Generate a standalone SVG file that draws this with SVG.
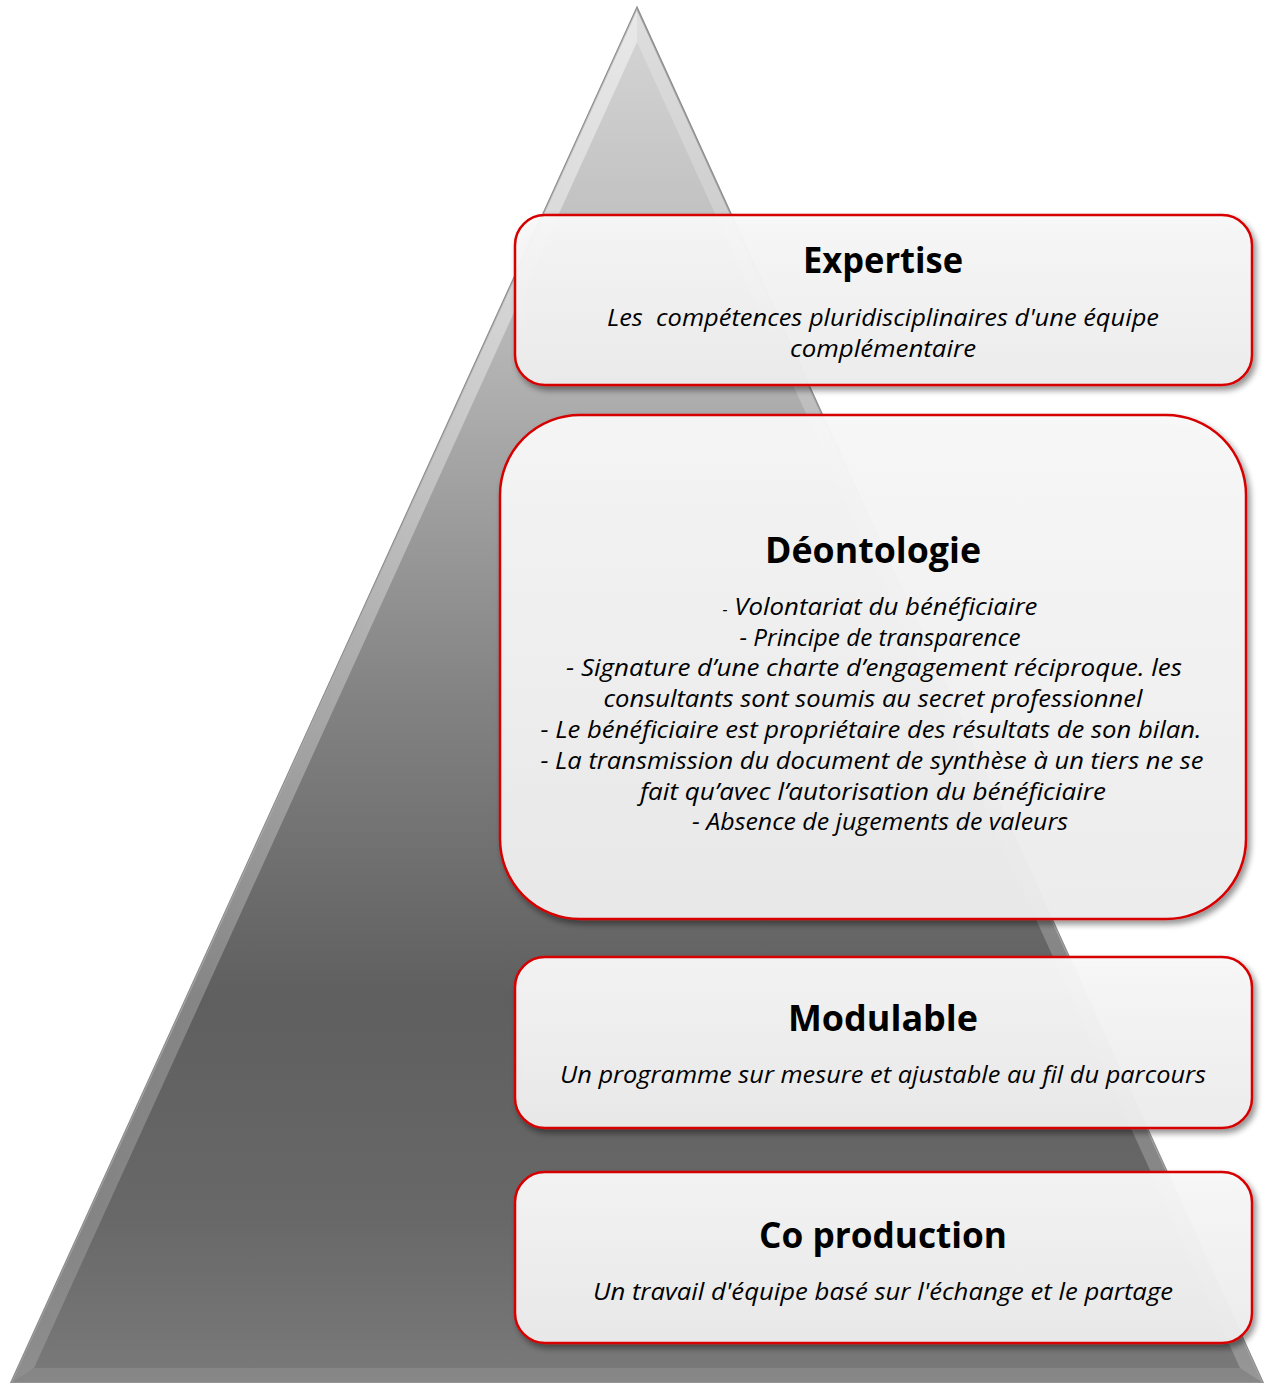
<svg xmlns="http://www.w3.org/2000/svg" width="1266" height="1383" viewBox="0 0 1266 1383">
<defs>
<linearGradient id="pyr" x1="0" y1="0" x2="0" y2="1">
<stop offset="0" stop-color="#d6d6d6"/>
<stop offset="0.25" stop-color="#b4b4b4"/>
<stop offset="0.5" stop-color="#838383"/>
<stop offset="0.72" stop-color="#5f5f5f"/>
<stop offset="0.88" stop-color="#686868"/>
<stop offset="1" stop-color="#7a7a7a"/>
</linearGradient>
<linearGradient id="bevL" x1="0" y1="0" x2="1" y2="0">
<stop offset="0" stop-color="#ffffff" stop-opacity="0.15"/>
<stop offset="1" stop-color="#ffffff" stop-opacity="0.45"/>
</linearGradient>
<linearGradient id="box" x1="0" y1="0" x2="0" y2="1">
<stop offset="0" stop-color="#f9f9f9"/>
<stop offset="1" stop-color="#eeeeee"/>
</linearGradient>
<filter id="sh" x="-5%" y="-10%" width="115%" height="130%">
<feGaussianBlur in="SourceAlpha" stdDeviation="3"/>
<feOffset dx="3" dy="4" result="b"/>
<feComponentTransfer><feFuncA type="linear" slope="0.45"/></feComponentTransfer>
<feMerge><feMergeNode/><feMergeNode in="SourceGraphic"/></feMerge>
</filter>
<style>
.bx{fill:url(#box);fill-opacity:0.95;stroke:#d60000;stroke-width:2.5}
.t{font-family:"Open Sans","Noto Sans","Liberation Sans",sans-serif;font-weight:bold;font-size:36px;fill:#000;text-anchor:middle}
.d{font-family:"Open Sans","Noto Sans","Liberation Sans",sans-serif;font-style:italic;font-size:24px;fill:#000;text-anchor:middle}
</style>
</defs>
<g id="pyramid">
<polygon points="637,8 11,1383 1263,1383" fill="url(#pyr)" stroke="#8a8a8a" stroke-width="2"/>
<polygon points="637,8 11,1383 34,1368 637,42" fill="url(#bevL)"/>
<polygon points="637,8 1263,1383 1240,1368 637,42" fill="#ffffff" fill-opacity="0.22"/>
<polygon points="34,1368 1240,1368 1263,1383 11,1383" fill="#ffffff" fill-opacity="0.1"/>
</g>
<g id="expertise">
<rect class="bx" x="515" y="215" width="737" height="170" rx="30" filter="url(#sh)"/>
<text class="t" x="883" y="273" textLength="160" lengthAdjust="spacingAndGlyphs">Expertise</text>
<text class="d" x="883" y="326" textLength="552" lengthAdjust="spacingAndGlyphs" xml:space="preserve">Les  compétences pluridisciplinaires d'une équipe</text>
<text class="d" x="883" y="357" textLength="186" lengthAdjust="spacingAndGlyphs">complémentaire</text>
</g>
<g id="deontologie">
<rect class="bx" x="500" y="415" width="746" height="504" rx="80" filter="url(#sh)"/>
<text class="t" x="873" y="563" textLength="216" lengthAdjust="spacingAndGlyphs">Déontologie</text>
<text class="d" x="880" y="615" textLength="315" lengthAdjust="spacingAndGlyphs"><tspan font-size="15">-</tspan> Volontariat du bénéficiaire</text>
<text class="d" x="880" y="646" textLength="281" lengthAdjust="spacingAndGlyphs">- Principe de transparence</text>
<text class="d" x="874" y="676" textLength="616" lengthAdjust="spacingAndGlyphs">- Signature d’une charte d’engagement réciproque. les</text>
<text class="d" x="873" y="707" textLength="539" lengthAdjust="spacingAndGlyphs">consultants sont soumis au secret professionnel</text>
<text class="d" x="871" y="738" textLength="661" lengthAdjust="spacingAndGlyphs">- Le bénéficiaire est propriétaire des résultats de son bilan.</text>
<text class="d" x="872" y="769" textLength="663" lengthAdjust="spacingAndGlyphs">- La transmission du document de synthèse à un tiers ne se</text>
<text class="d" x="873" y="800" textLength="466" lengthAdjust="spacingAndGlyphs">fait qu’avec l’autorisation du bénéficiaire</text>
<text class="d" x="880" y="830" textLength="376" lengthAdjust="spacingAndGlyphs">- Absence de jugements de valeurs</text>
</g>
<g id="modulable">
<rect class="bx" x="515" y="957" width="737" height="171" rx="30" filter="url(#sh)"/>
<text class="t" x="883" y="1031" textLength="190" lengthAdjust="spacingAndGlyphs">Modulable</text>
<text class="d" x="883" y="1083" textLength="646" lengthAdjust="spacingAndGlyphs">Un programme sur mesure et ajustable au fil du parcours</text>
</g>
<g id="coproduction">
<rect class="bx" x="515" y="1172" width="737" height="171" rx="30" filter="url(#sh)"/>
<text class="t" x="883" y="1248" textLength="248" lengthAdjust="spacingAndGlyphs">Co production</text>
<text class="d" x="883" y="1300" textLength="580" lengthAdjust="spacingAndGlyphs">Un travail d'équipe basé sur l'échange et le partage</text>
</g>
<g id="connectors"/>
</svg>
